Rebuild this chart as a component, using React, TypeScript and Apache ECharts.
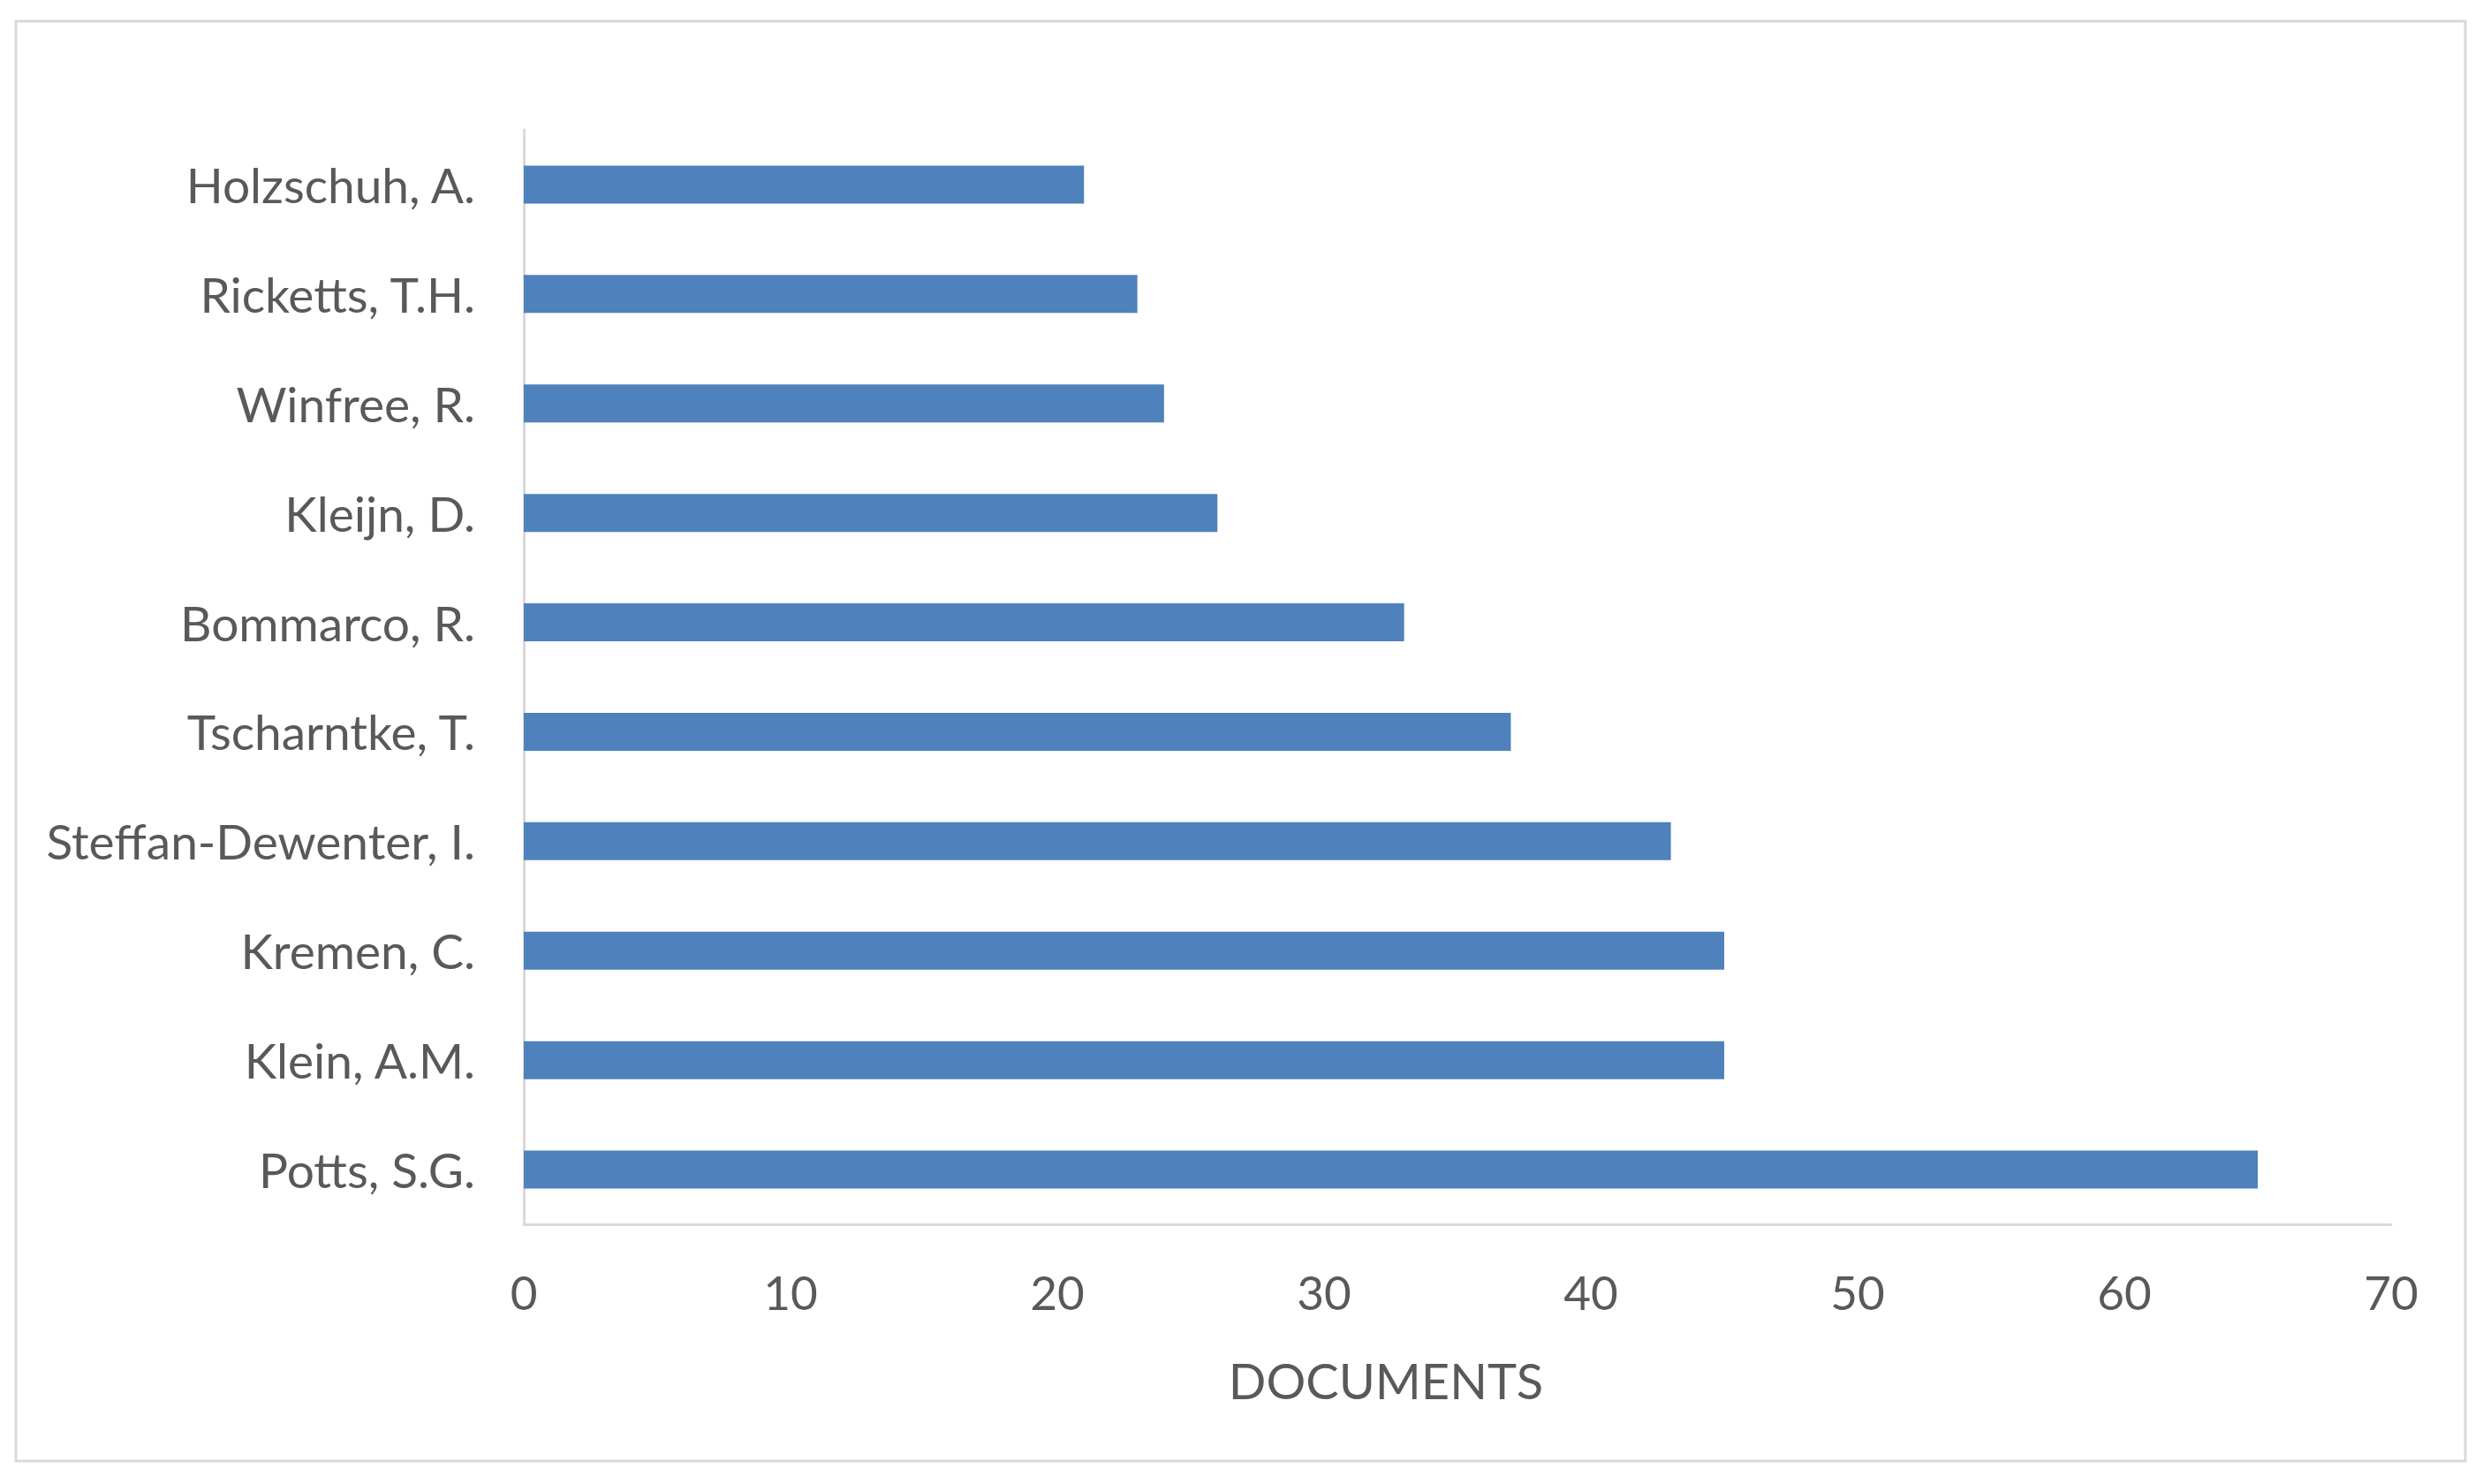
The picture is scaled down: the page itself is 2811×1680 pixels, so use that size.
import React, { useEffect, useRef } from "react";
import * as echarts from "echarts";

const authors = [
  "Holzschuh, A.",
  "Ricketts, T.H.",
  "Winfree, R.",
  "Kleijn, D.",
  "Bommarco, R.",
  "Tscharntke, T.",
  "Steffan-Dewenter, I.",
  "Kremen, C.",
  "Klein, A.M.",
  "Potts, S.G.",
];
const documents = [21, 23, 24, 26, 33, 37, 43, 45, 45, 65];
const axisName = "DOCUMENTS";

export default function App() {
  const ref = useRef<HTMLDivElement>(null);
  useEffect(() => {
    document.body.style.margin = "0";
    const chart = echarts.init(ref.current!, null, { renderer: "svg" });
    const textColor = "#595959";
    const font = "Lato, 'Open Sans', sans-serif";
    chart.setOption({
      animation: false,
      backgroundColor: "#ffffff",
      graphic: [
        {
          type: "rect",
          shape: { x: 18, y: 24, width: 2773, height: 1630 },
          style: { fill: "none", stroke: "#d9d9d9", lineWidth: 3 },
          silent: true,
        },
      ],
      grid: { left: 593, right: 104, top: 147, bottom: 294, containLabel: false },
      xAxis: {
        type: "value",
        min: 0,
        max: 70,
        interval: 10,
        splitLine: { show: false },
        axisLine: { show: true, lineStyle: { color: "#d9d9d9", width: 3 } },
        axisTick: { show: false },
        axisLabel: { color: textColor, fontSize: 53, fontFamily: font, margin: 50 },
        name: axisName,
        nameLocation: "middle",
        nameGap: 148,
        nameTextStyle: {
          color: textColor,
          fontSize: 56,
          fontFamily: font,
          padding: [0, 162, 0, 0],
        },
      },
      yAxis: {
        type: "category",
        data: authors,
        inverse: true,
        axisLine: { show: true, lineStyle: { color: "#d9d9d9", width: 3 } },
        axisTick: { show: false },
        axisLabel: { color: textColor, fontSize: 55, fontFamily: font, margin: 55 },
        splitLine: { show: false },
      },
      series: [
        {
          type: "bar",
          data: documents,
          barWidth: 43,
          itemStyle: { color: "#4f81bd" },
        },
      ],
    });
    return () => chart.dispose();
  }, []);
  return (
    <div
      ref={ref}
      style={{ position: "fixed", left: 0, top: 0, width: 2811, height: 1680 }}
    />
  );
}
